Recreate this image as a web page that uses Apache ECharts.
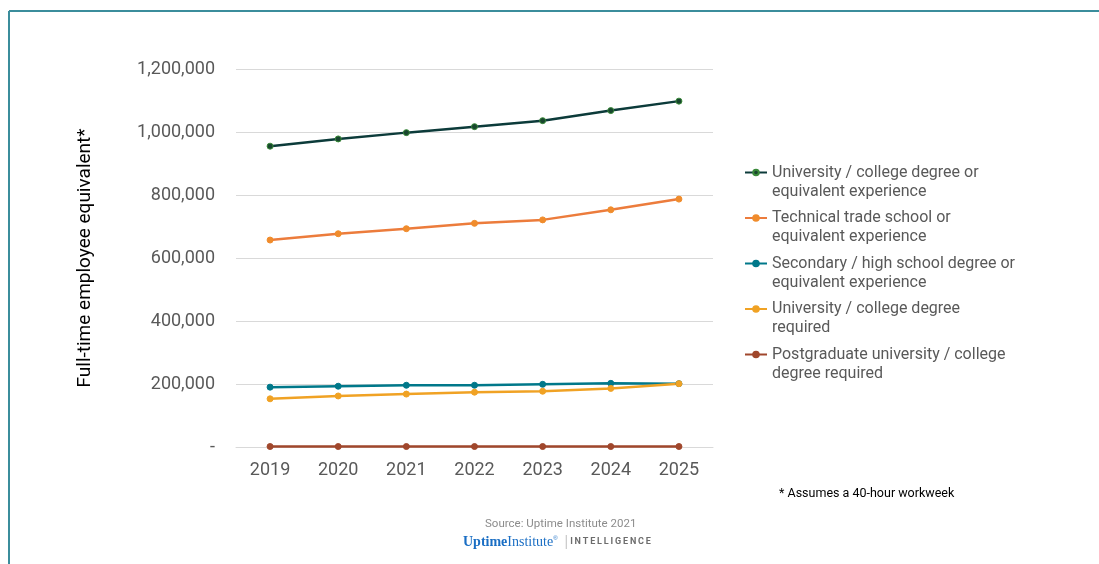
<!DOCTYPE html>
<html>
<head>
<meta charset="utf-8">
<script src="https://cdn.jsdelivr.net/npm/echarts@6/dist/echarts.min.js"></script>
<style>
  html, body { margin: 0; padding: 0; background: #fff; }
  #chart { width: 1099px; height: 564px; }
</style>
</head>
<body>
<div id="chart"></div>
<script>
  // data
  var years = ['2019', '2020', '2021', '2022', '2023', '2024', '2025']
  var uniOrEquiv = [955000, 978000, 998000, 1017000, 1036000, 1068000, 1098000]
  var techTrade = [657000, 677000, 693000, 710000, 721000, 753000, 787000]
  var secondary = [190000, 193000, 196000, 196000, 199000, 202000, 201000]
  var uniRequired = [153000, 162000, 168000, 174000, 177000, 186000, 201000]
  var postgrad = [1500, 1500, 1500, 1500, 1500, 1500, 1500]
  var yTicks = ['-', '200,000', '400,000', '600,000', '800,000', '1,000,000', '1,200,000']

  var names = [
    'University / college degree or equivalent experience',
    'Technical trade school or equivalent experience',
    'Secondary / high school degree or equivalent experience',
    'University / college degree required',
    'Postgraduate university / college degree required'
  ]
  // two-line legend labels; the leading blank line puts line one level with the icon
  var legendLabels = {}
  legendLabels[names[0]] = '\nUniversity / college degree or\nequivalent experience'
  legendLabels[names[1]] = '\nTechnical trade school or\nequivalent experience'
  legendLabels[names[2]] = '\nSecondary / high school degree or\nequivalent experience'
  legendLabels[names[3]] = '\nUniversity / college degree\nrequired'
  legendLabels[names[4]] = '\nPostgraduate university / college\ndegree required'

  function makeSeries(name, data, lineColor, dotColor, borderColor) {
    return {
      name: name,
      type: 'line',
      data: data,
      symbol: 'circle',
      symbolSize: 6,
      lineStyle: { color: lineColor, width: 2.5 },
      itemStyle: { color: dotColor, borderColor: borderColor, borderWidth: 1 },
      emphasis: { disabled: true }
    }
  }

  var myChart = echarts.init(document.getElementById('chart'))
  var option = {
    animation: false,
    grid: { left: 236, right: 386, top: 69, bottom: 117 },
    legend: {
      orient: 'vertical',
      left: 744,
      top: 144,
      padding: 0,
      itemWidth: 22,
      itemHeight: 7,
      itemGap: -11.5,
      data: names,
      formatter: function (n) { return legendLabels[n] },
      textStyle: {
        color: '#595959',
        fontSize: 16,
        fontFamily: 'Roboto',
        lineHeight: 19
      }
    },
    xAxis: {
      type: 'category',
      data: years,
      axisLine: { lineStyle: { color: '#d9d9d9', width: 1 } },
      axisTick: { show: false },
      axisLabel: { color: '#595959', fontSize: 18, fontFamily: 'Roboto', margin: 14 }
    },
    yAxis: {
      type: 'value',
      min: 0,
      max: 1200000,
      interval: 200000,
      name: 'Full-time employee equivalent*',
      nameLocation: 'middle',
      nameRotate: 90,
      nameGap: 141,
      nameTextStyle: { color: '#000', fontSize: 19, fontFamily: 'Roboto' },
      axisLine: { show: false },
      axisTick: { show: false },
      splitLine: { lineStyle: { color: '#d9d9d9', width: 1 } },
      axisLabel: {
        color: '#595959',
        fontSize: 18,
        fontFamily: 'Roboto',
        margin: 21,
        formatter: function (v) { return yTicks[Math.round(v / 200000)] }
      }
    },
    series: [
      makeSeries(names[0], uniOrEquiv, '#0c3b3a', '#18462e', '#3a8a3a'),
      makeSeries(names[1], techTrade, '#ec7c3c', '#f08c2c', '#f08c2c'),
      makeSeries(names[2], secondary, '#00788a', '#00788a', '#00788a'),
      makeSeries(names[3], uniRequired, '#f0a224', '#f0a224', '#f0a224'),
      makeSeries(names[4], postgrad, '#a0472c', '#a0472c', '#a0472c')
    ],
    graphic: [
      // teal frame
      { type: 'line', shape: { x1: 9, y1: 11, x2: 1099, y2: 11 }, style: { stroke: '#3b8d9c', lineWidth: 2 } },
      { type: 'line', shape: { x1: 9, y1: 11, x2: 9, y2: 564 }, style: { stroke: '#3b8d9c', lineWidth: 2 } },
      {
        type: 'text', left: 779, top: 487,
        style: { text: '* Assumes a 40-hour workweek', fill: '#000', fontSize: 12.5, fontFamily: 'Roboto' }
      },
      {
        type: 'text', left: 485, top: 518,
        style: { text: 'Source: Uptime Institute 2021', fill: '#8c8c8c', fontSize: 11.5, fontFamily: 'Roboto' }
      },
      {
        type: 'text', left: 463, top: 535,
        style: {
          text: '{a|Uptime}{b|Institute}{r|®}{s| |}{c|I\u2009N\u2009T\u2009E\u2009L\u2009L\u2009I\u2009G\u2009E\u2009N\u2009C\u2009E}',
          rich: {
            a: { fill: '#1a6ec4', fontSize: 14, fontWeight: 'bold', fontFamily: 'Liberation Serif' },
            b: { fill: '#1a6ec4', fontSize: 14, fontFamily: 'Liberation Serif' },
            r: { fill: '#1a6ec4', fontSize: 6, verticalAlign: 'top' },
            s: { fill: '#c8c8c8', fontSize: 14, padding: [0, 2, 0, 3] },
            c: { fill: '#6d6d6d', fontSize: 9, fontWeight: 'bold', fontFamily: 'Roboto' }
          }
        }
      }
    ]
  }
  myChart.setOption(option)
</script>
</body>
</html>
